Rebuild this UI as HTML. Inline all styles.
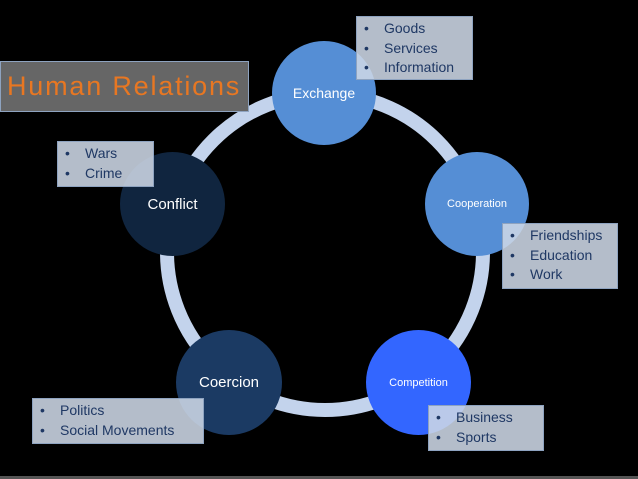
<!DOCTYPE html>
<html><head><meta charset="utf-8"><style>
body{margin:0;width:638px;height:479px;background:#000;overflow:hidden;position:relative;font-family:"Liberation Sans",sans-serif}
.c{position:absolute;border-radius:50%;color:#fff;display:flex;align-items:center;justify-content:center}
.b{position:absolute;background:rgba(205,215,230,0.88);border:1px solid #8ea3c0;color:#1f3864;font-size:14px;line-height:19.5px;box-sizing:border-box;padding:2px 0 0 7px}
.b div::before{content:"•";display:inline-block;width:20px}
</style></head><body>
<svg width="638" height="479" style="position:absolute;left:0;top:0">
<circle cx="325" cy="252" r="158" fill="none" stroke="#c3d3ec" stroke-width="14"/>
<rect x="0" y="476" width="638" height="3" fill="#555"/>
</svg>
<div class="c" style="left:272px;top:41px;width:104px;height:104px;background:#558ed5;font-size:14px">Exchange</div>
<div class="c" style="left:120px;top:152px;width:105px;height:104px;background:#10253f;font-size:15px">Conflict</div>
<div class="c" style="left:425px;top:152px;width:104px;height:104px;background:#558ed5;font-size:11px">Cooperation</div>
<div class="c" style="left:176px;top:330px;width:106px;height:105px;background:#1b3a63;font-size:15px">Coercion</div>
<div class="c" style="left:366px;top:330px;width:105px;height:105px;background:#3366ff;font-size:11px">Competition</div>
<div style="position:absolute;left:0;top:61px;width:249px;height:51px;background:#666;border:1px solid #8ea3c0;box-sizing:border-box;color:#e87722;font-size:27px;line-height:49px;padding-left:6px;letter-spacing:1.8px">Human Relations</div>
<div class="b" style="left:356px;top:16px;width:117px;height:64px"><div>Goods</div><div>Services</div><div>Information</div></div>
<div class="b" style="left:57px;top:141px;width:97px;height:46px"><div>Wars</div><div>Crime</div></div>
<div class="b" style="left:502px;top:223px;width:116px;height:66px"><div>Friendships</div><div>Education</div><div>Work</div></div>
<div class="b" style="left:32px;top:398px;width:172px;height:46px"><div>Politics</div><div>Social Movements</div></div>
<div class="b" style="left:428px;top:405px;width:116px;height:46px"><div>Business</div><div>Sports</div></div>
</body></html>
